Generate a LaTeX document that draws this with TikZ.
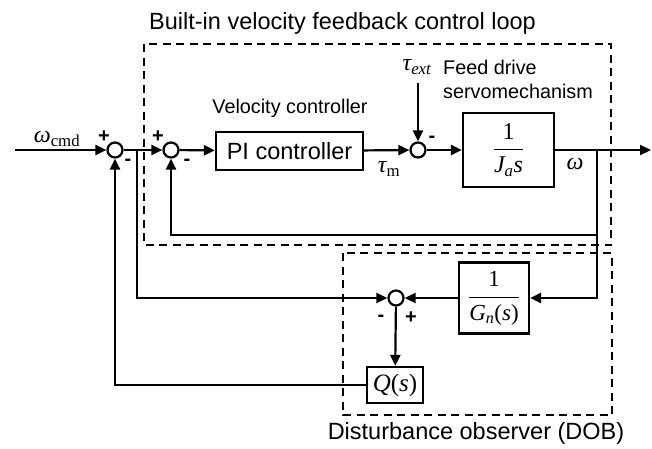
\documentclass[tikz,border=0pt]{standalone}
\usepackage{fontspec}
\setmainfont{Liberation Sans}
\newfontfamily\tms{Liberation Serif}
\usetikzlibrary{arrows.meta}
\begin{document}
\begin{tikzpicture}[x=1pt,y=-1pt,
  every node/.style={inner sep=0pt},
  wire/.style={line width=2.2pt},
  arr/.style={wire,-{Triangle[length=11pt,width=10pt]}},
  sumnode/.style={circle,draw,line width=2.2pt,minimum size=15pt},
  blk/.style={draw,line width=2.2pt,fill=white},
  dbox/.style={line width=2.2pt,dash pattern=on 8pt off 5.5pt},
  big/.style={font=\fontsize{23.5}{26}\selectfont},
  mid/.style={font=\fontsize{19.8}{24}\selectfont},
  sgn/.style={font=\bfseries\fontsize{20}{22}\selectfont},
  mth/.style={font=\tms\fontsize{24}{26}\selectfont}
]
\useasboundingbox (0,0) rectangle (652,448);

% dashed frames
\draw[dbox] (144,44) rectangle (611,245);
\draw[dbox] (343,253) rectangle (612,415);

% nodes
\node[sumnode] (s1) at (115,150) {};
\node[sumnode] (s2) at (171,150) {};
\node[blk,big,minimum width=147pt,minimum height=38pt] (pi) at (289.5,151) {PI controller};
\node[sumnode] (s3) at (418,150) {};
\node[blk,minimum width=91pt,minimum height=74pt,font=\tms\fontsize{24}{26}\selectfont] (ja) at (508.5,150)
  {$\displaystyle\frac{\mbox{1}}{\mbox{\itshape J\textsubscript{a}s}}$};
\node[sumnode] (s4) at (396,298) {};
\node[blk,minimum width=70pt,minimum height=71pt,font=\tms\fontsize{23}{25}\selectfont] (gn) at (494,298)
  {$\displaystyle\frac{\mbox{1}}{\mbox{{\itshape G\textsubscript{n}}(\textit{s})}}$};
\node[blk,minimum width=56pt,minimum height=36pt,font=\tms\fontsize{25}{27}\selectfont] (q) at (395,385)
  {\textit{Q}(\textit{s})};

\coordinate (in) at (15,150);
\coordinate (out) at (651,150);
\coordinate (br1) at (137,150);
\coordinate (br2) at (597,150);
\coordinate (fb2) at (171,235);
\coordinate (tx) at (418,83);

% labels
\node[big] (title) at (342.5,23) {Built-in velocity feedback control loop};
\node[mid] (vc) at (290,108) {Velocity controller};
\node[mid,anchor=west,align=left] (fd) at (443,79) {Feed drive\\servomechanism};
\node[big] (dob) at (476,433) {Disturbance observer (DOB)};
\node[mth] (wcmd) at (57,139) {\itshape ω\textsubscript{\upshape cmd}};
\node[mth] (taum) at (389,169) {\itshape τ\textsubscript{\upshape m}};
\node[mth] (tauext) at (417,67) {\itshape τ\textsubscript{ext}};
\node[mth] (wout) at (575,164) {\itshape ω};
\node[sgn] (p1) at (104,137) {+};
\node[sgn] (m1) at (128,162) {-};
\node[sgn] (p2) at (158,137) {+};
\node[sgn] (m2) at (187,162) {-};
\node[sgn] (m3) at (432,139) {-};
\node[sgn] (m4) at (381,318) {-};
\node[sgn] (p4) at (411,318) {+};

% connectors
\draw[arr] (in) -- (s1);
\draw[arr] (s1) -- (s2);
\draw[arr] (s2) -- (pi);
\draw[arr] (pi) -- (s3);
\draw[arr] (s3) -- (ja);
\draw[arr] (ja) -- (out);
\draw[arr] (tx) -- (s3);
\draw[arr] (br2) |- (fb2) -- (s2);
\draw[arr] (br2) |- (gn);
\draw[arr] (gn) -- (s4);
\draw[arr] (br1) |- (s4);
\draw[arr] (s4) -- (q);
\draw[arr] (q) -| (s1);
\end{tikzpicture}
\end{document}
